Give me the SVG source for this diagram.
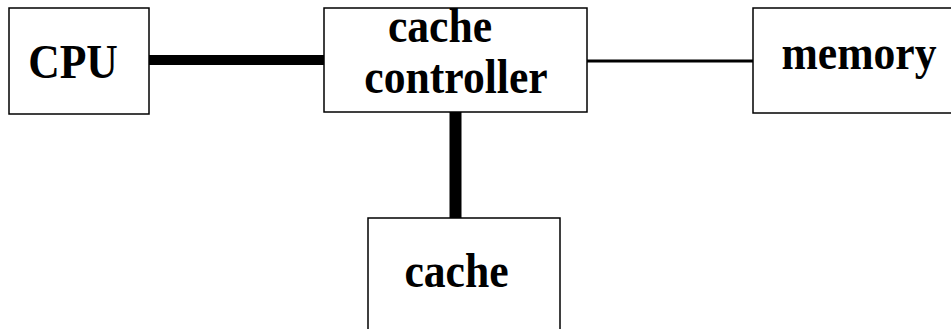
<svg xmlns="http://www.w3.org/2000/svg" width="951" height="329" viewBox="0 0 951 329">
  <style>
    .box { fill: #ffffff; stroke: #000000; stroke-width: 1.5; }
    .label { font-family: "Liberation Serif", "Times New Roman", serif; font-weight: bold; font-size: 45px; fill: #000000; text-anchor: middle; }
    .bus { stroke: #000000; fill: none; }
  </style>
  <rect width="951" height="329" fill="#ffffff"/>

  <g id="connectors">
    <line class="bus" x1="149" y1="60" x2="324" y2="60" stroke-width="10"/>
    <line class="bus" x1="587" y1="61" x2="753" y2="61" stroke-width="3"/>
    <line class="bus" x1="455.5" y1="112" x2="455.5" y2="218" stroke-width="12"/>
  </g>

  <g id="cpu">
    <rect class="box" x="9" y="8" width="140" height="106"/>
    <text class="label" transform="translate(73,77.5) scale(0.97,1.07)">CPU</text>
  </g>

  <g id="cache-controller">
    <rect class="box" x="324" y="8" width="263" height="104"/>
    <text class="label" transform="translate(440,42) scale(0.97,1.07)">cache</text>
    <text class="label" transform="translate(456,93) scale(0.97,1.07)">controller</text>
  </g>

  <g id="memory">
    <rect class="box" x="753" y="8" width="210" height="105"/>
    <text class="label" transform="translate(859,69) scale(0.97,1.07)">memory</text>
  </g>

  <g id="cache">
    <rect class="box" x="368" y="218" width="192" height="130"/>
    <text class="label" transform="translate(456.5,287) scale(0.97,1.07)">cache</text>
  </g>
</svg>
